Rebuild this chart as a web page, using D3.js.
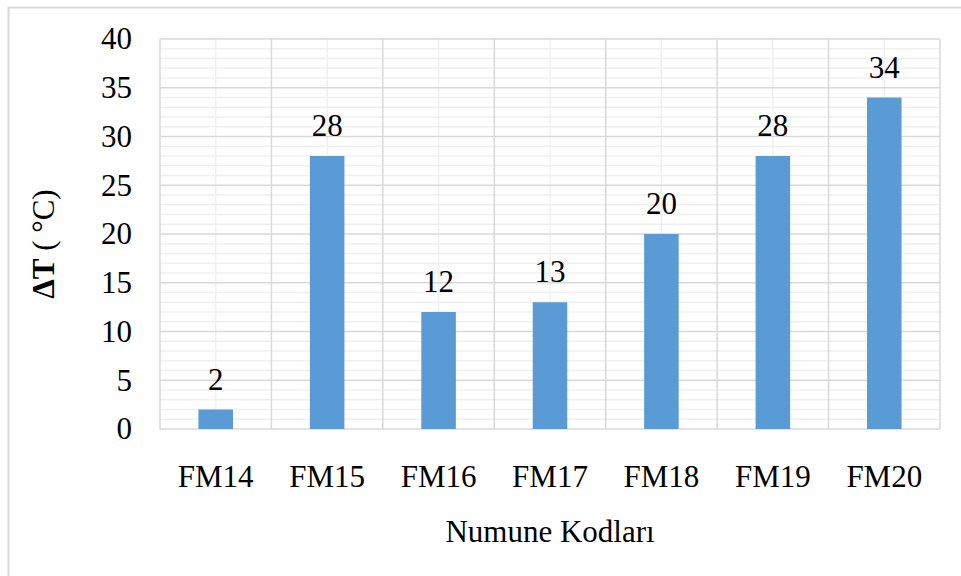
<!DOCTYPE html>
<html>
<head>
<meta charset="utf-8">
<script src="https://cdn.jsdelivr.net/npm/d3@7"></script>
<style>
  body { margin: 0; background: #fff; }
  svg { font-family: "Liberation Serif", "Times New Roman", serif; }
</style>
</head>
<body>
<svg id="chart"></svg>
<script>
// Data
const categories = ["FM14", "FM15", "FM16", "FM17", "FM18", "FM19", "FM20"];
const values = [2, 28, 12, 13, 20, 28, 34];
const yTicks = [0, 5, 10, 15, 20, 25, 30, 35, 40];

// Layout
const width = 961;
const height = 576;
const margin = { top: 39, right: 21, bottom: 147, left: 160 };
const fontSize = 31;

const svg = d3.select("#chart")
    .attr("width", width)
    .attr("height", height);

// Outer frame
svg.append("rect")
    .attr("x", 8.5).attr("y", 7.5)
    .attr("width", width + 10).attr("height", height + 10)
    .attr("fill", "none")
    .attr("stroke", "#d9d9d9")
    .attr("stroke-width", 2);

// Scales
const xScale = d3.scaleBand()
    .domain(categories)
    .range([margin.left, width - margin.right])
    .paddingInner(0.69)
    .paddingOuter(0.345);

const yScale = d3.scaleLinear()
    .domain([0, 40])
    .range([height - margin.bottom, margin.top]);

const x0 = margin.left, x1 = width - margin.right;
const yBottom = yScale(0), yTop = yScale(40);
const step = (x1 - x0) / categories.length;

// Minor horizontal gridlines
svg.append("g")
    .selectAll("line")
    .data(d3.range(0, 41).filter(v => v % 5 !== 0))
    .join("line")
    .attr("x1", x0).attr("x2", x1)
    .attr("y1", d => yScale(d)).attr("y2", d => yScale(d))
    .attr("stroke", "#f0f0f0")
    .attr("stroke-width", 1.5);

// Minor vertical gridlines at category centers
svg.append("g")
    .selectAll("line")
    .data(categories)
    .join("line")
    .attr("x1", d => xScale(d) + xScale.bandwidth() / 2)
    .attr("x2", d => xScale(d) + xScale.bandwidth() / 2)
    .attr("y1", yTop).attr("y2", yBottom)
    .attr("stroke", "#f0f0f0")
    .attr("stroke-width", 1.5);

// Major horizontal gridlines
svg.append("g")
    .selectAll("line")
    .data(yTicks)
    .join("line")
    .attr("x1", x0).attr("x2", x1)
    .attr("y1", d => yScale(d)).attr("y2", d => yScale(d))
    .attr("stroke", "#d9d9d9")
    .attr("stroke-width", 1.5);

// Major vertical gridlines at category boundaries
svg.append("g")
    .selectAll("line")
    .data(d3.range(0, categories.length + 1))
    .join("line")
    .attr("x1", i => x0 + i * step).attr("x2", i => x0 + i * step)
    .attr("y1", yTop).attr("y2", yBottom)
    .attr("stroke", "#d9d9d9")
    .attr("stroke-width", 1.5);

// Bars
svg.append("g")
    .selectAll("rect")
    .data(values)
    .join("rect")
    .attr("x", (d, i) => xScale(categories[i]))
    .attr("y", d => yScale(d))
    .attr("width", xScale.bandwidth())
    .attr("height", d => yBottom - yScale(d))
    .attr("fill", "#5b9bd5");

// Data labels
svg.append("g")
    .selectAll("text")
    .data(values)
    .join("text")
    .attr("x", (d, i) => xScale(categories[i]) + xScale.bandwidth() / 2)
    .attr("y", d => yScale(d) - 20)
    .attr("text-anchor", "middle")
    .attr("font-size", fontSize)
    .attr("fill", "#000")
    .text(d => d);

// Y axis labels
const yAxis = d3.axisLeft(yScale).tickValues(yTicks).tickSize(0).tickPadding(28);
const yG = svg.append("g")
    .attr("transform", `translate(${x0}, 0)`)
    .call(yAxis);
yG.select(".domain").remove();
yG.selectAll("text")
    .attr("font-family", "Liberation Serif, serif")
    .attr("font-size", fontSize)
    .attr("fill", "#000");

// X axis labels
const xAxis = d3.axisBottom(xScale).tickSize(0).tickPadding(36);
const xG = svg.append("g")
    .attr("transform", `translate(0, ${yBottom})`)
    .call(xAxis);
xG.select(".domain").remove();
xG.selectAll("text")
    .attr("font-family", "Liberation Serif, serif")
    .attr("font-size", fontSize)
    .attr("fill", "#000");

// Axis titles
svg.append("text")
    .attr("x", (x0 + x1) / 2)
    .attr("y", 542)
    .attr("text-anchor", "middle")
    .attr("font-size", fontSize)
    .text("Numune Kodları");

const yTitle = svg.append("text")
    .attr("transform", `translate(54, 244) rotate(-90)`)
    .attr("text-anchor", "middle")
    .attr("font-size", fontSize);
yTitle.append("tspan").attr("font-weight", "bold").text("ΔT");
yTitle.append("tspan").text(" ( °C)");
</script>
</body>
</html>
